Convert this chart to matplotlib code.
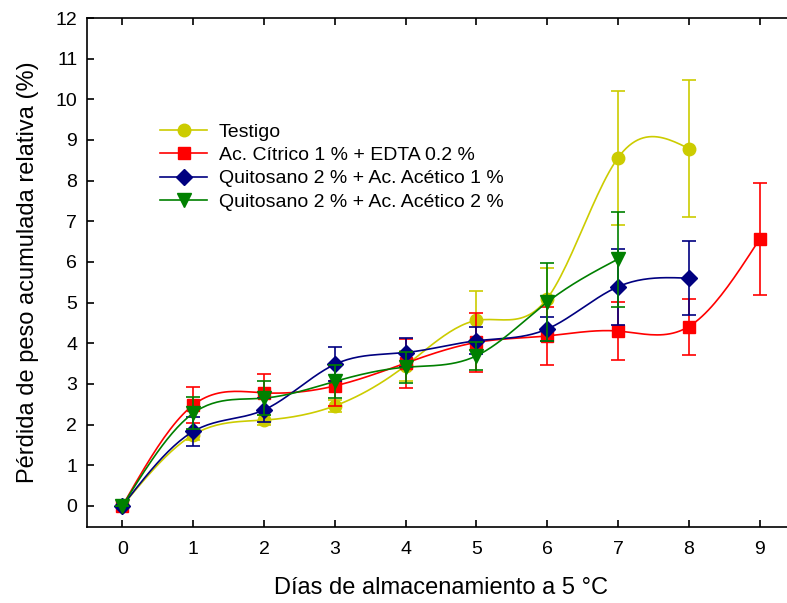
import matplotlib
matplotlib.use("Agg")
import matplotlib.pyplot as plt
import numpy as np

plt.rcParams['font.family'] = ['Liberation Sans', 'DejaVu Sans']

dias = [0, 1, 2, 3, 4, 5, 6, 7, 8, 9]

testigo = [0, 1.75, 2.11, 2.46, 3.45, 4.56, 5.10, 8.56, 8.79]
testigo_err = [0, 0.12, 0.12, 0.15, 0.37, 0.73, 0.75, 1.65, 1.68]

citrico = [0, 2.48, 2.78, 2.95, 3.51, 4.02, 4.18, 4.30, 4.41, 6.56]
citrico_err = [0, 0.44, 0.47, 0.5, 0.6, 0.73, 0.72, 0.71, 0.69, 1.37]

quito1 = [0, 1.83, 2.36, 3.48, 3.77, 4.06, 4.35, 5.39, 5.60]
quito1_err = [0, 0.36, 0.3, 0.42, 0.36, 0.33, 0.3, 0.93, 0.91]

quito2 = [0, 2.28, 2.65, 3.06, 3.41, 3.69, 5.01, 6.07]
quito2_err = [0, 0.4, 0.42, 0.4, 0.38, 0.35, 0.96, 1.17]

series = [
    ("Testigo", testigo, testigo_err, "#cccc00", "o", 9),
    ("Ac. Cítrico 1 % + EDTA 0.2 %", citrico, citrico_err, "#ff0000", "s", 8.5),
    ("Quitosano 2 % + Ac. Acético 1 %", quito1, quito1_err, "#000080", "D", 8.5),
    ("Quitosano 2 % + Ac. Acético 2 %", quito2, quito2_err, "#008000", "v", 10),
]


def spline(x, y, n=200):
    # natural cubic spline, only used to draw the smooth line
    x = np.asarray(x, float)
    y = np.asarray(y, float)
    k = len(x)
    h = np.diff(x)
    A = np.zeros((k, k))
    b = np.zeros(k)
    A[0, 0] = 1
    A[-1, -1] = 1
    for i in range(1, k - 1):
        A[i, i - 1] = h[i - 1]
        A[i, i] = 2 * (h[i - 1] + h[i])
        A[i, i + 1] = h[i]
        b[i] = 3 * ((y[i + 1] - y[i]) / h[i] - (y[i] - y[i - 1]) / h[i - 1])
    c = np.linalg.solve(A, b)
    xs = np.linspace(x[0], x[-1], n)
    ys = np.zeros_like(xs)
    for j, xv in enumerate(xs):
        i = min(np.searchsorted(x, xv, side='right') - 1, k - 2)
        bi = (y[i + 1] - y[i]) / h[i] - h[i] * (2 * c[i] + c[i + 1]) / 3
        di = (c[i + 1] - c[i]) / (3 * h[i])
        t = xv - x[i]
        ys[j] = y[i] + bi * t + c[i] * t ** 2 + di * t ** 3
    return xs, ys


fig = plt.figure(figsize=(7.87, 6.03), dpi=100)
ax = fig.add_axes([87 / 787, 76 / 603, 708 / 787, 509 / 603])

for name, vals, err, col, mk, ms in series:
    x = dias[:len(vals)]
    ax.errorbar(x, vals, yerr=err, fmt='none', ecolor=col, elinewidth=1.2,
                capsize=5, capthick=1.2)
    xs, ys = spline(x, vals)
    ax.plot(xs, ys, color=col, lw=1.2)
    ax.plot(x, vals, linestyle='none', marker=mk, color=col, markersize=ms)
    ax.plot([], [], color=col, lw=1.2, marker=mk, markersize=ms, label=name)

ax.set_xlim(-0.5, 9.5)
ax.set_ylim(-0.52, 12)
ax.set_xticks(range(10))
ax.set_yticks(range(13))
ax.tick_params(direction='in', length=5, width=1.2, labelsize=14, top=True,
               right=False)
ax.tick_params(axis='y', pad=7)
ax.tick_params(axis='x', pad=10)
for s in ['left', 'bottom', 'top']:
    ax.spines[s].set_linewidth(1.2)
ax.spines['right'].set_visible(False)

ax.set_xlabel("Días de almacenamiento a 5 °C", fontsize=17, labelpad=14)
ax.set_ylabel("Pérdida de peso acumulada relativa (%)", fontsize=17, labelpad=12)

ax.legend(loc='upper left', bbox_to_anchor=(0.09, 0.813), frameon=False,
          fontsize=14, handlelength=2.4, labelspacing=0.3, handletextpad=0.6,
          borderpad=0, numpoints=1)

fig.savefig("out.png", dpi=100)
